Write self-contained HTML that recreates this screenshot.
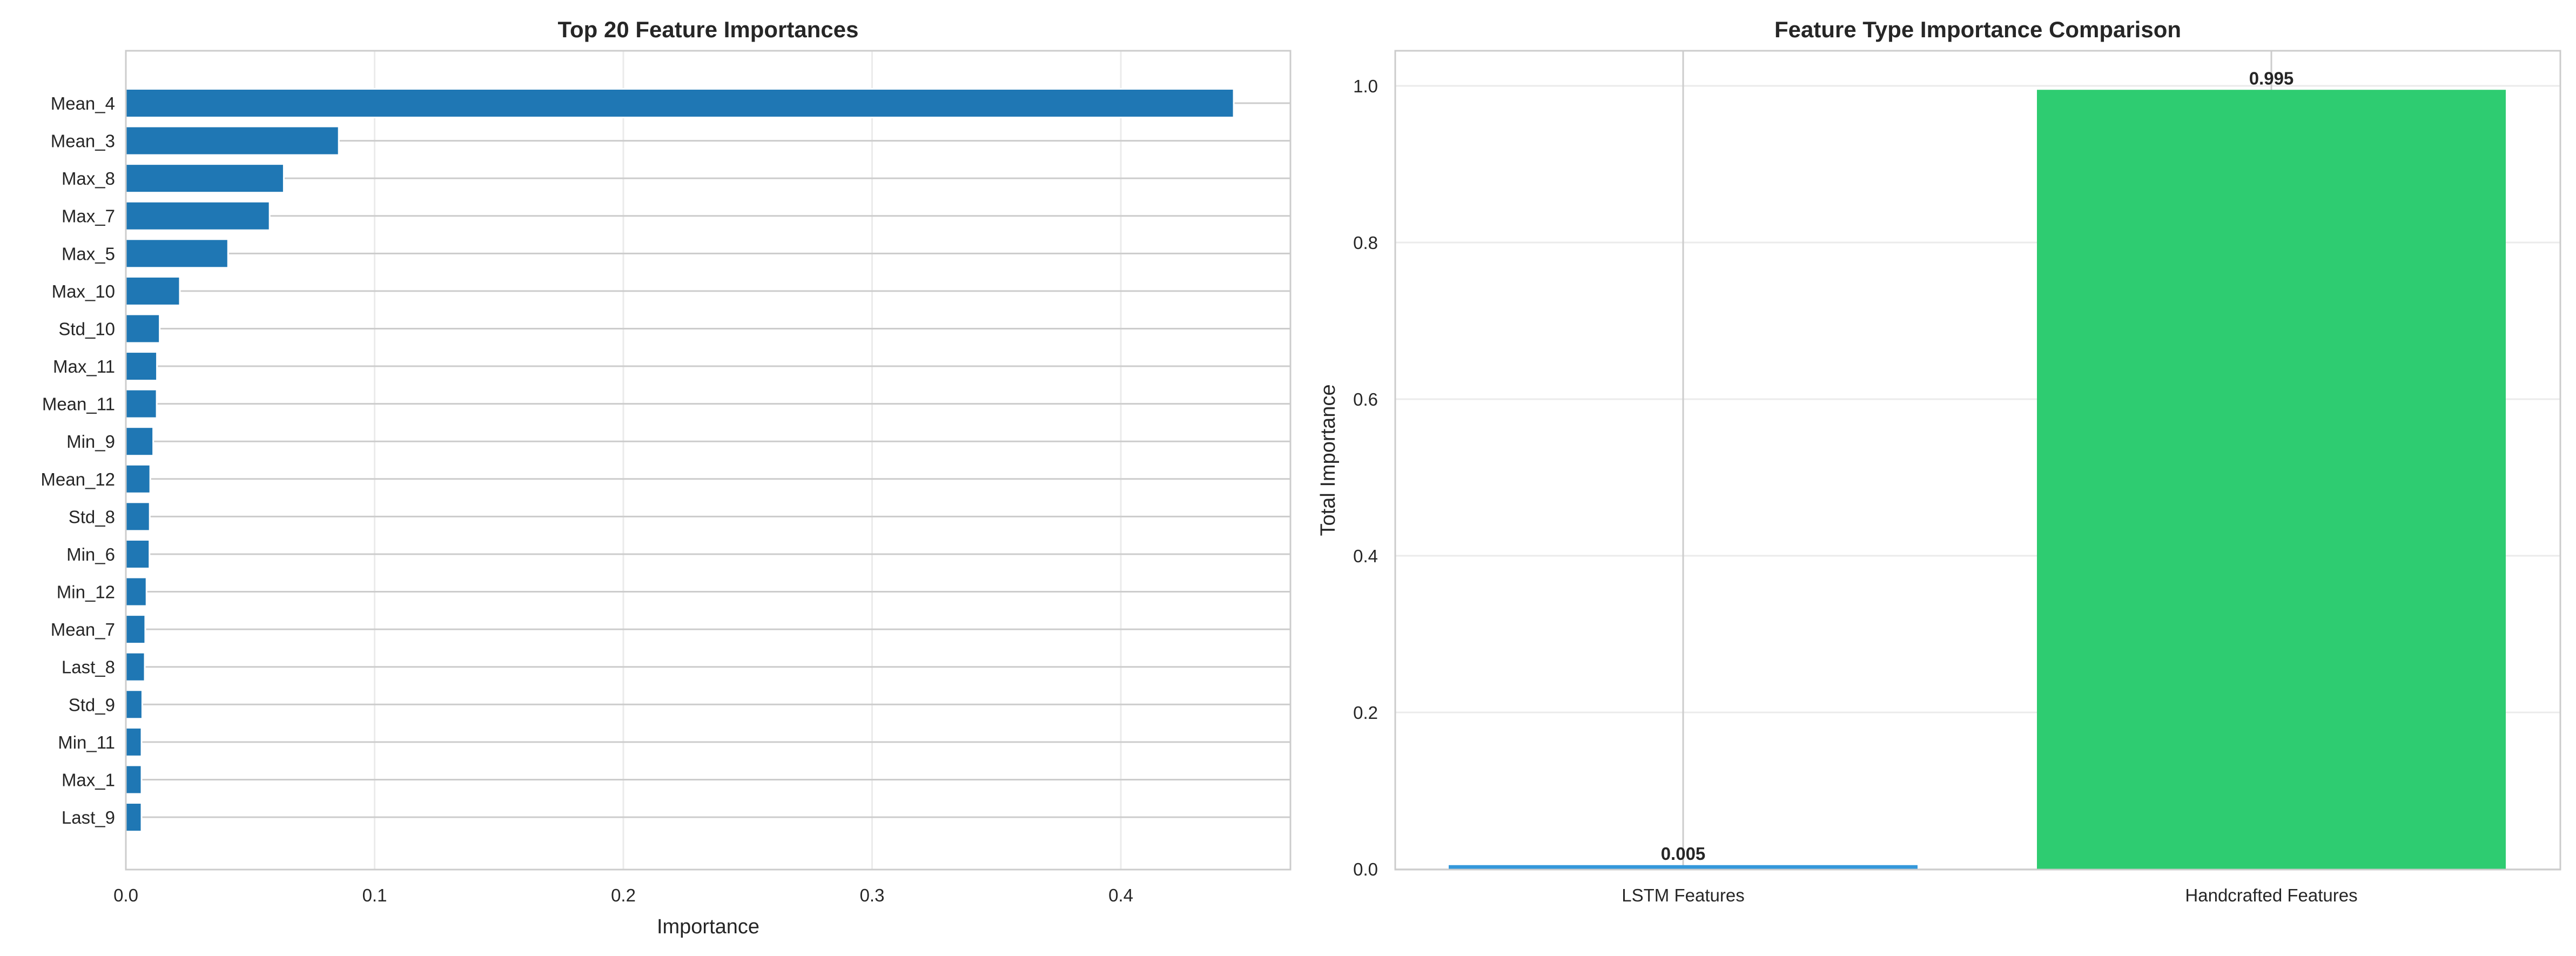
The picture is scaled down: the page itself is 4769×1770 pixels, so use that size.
<!DOCTYPE html>
<html><head><meta charset="utf-8"><style>
html,body{margin:0;padding:0;background:#fff}
svg{display:block;font-family:"Liberation Sans",Arial,sans-serif}
</style></head><body>
<svg id="c" width="4769" height="1770" viewBox="0 0 4769 1770" xmlns="http://www.w3.org/2000/svg">
<rect width="4769" height="1770" fill="#fff"/>
</svg>
<script>
const featureNames=["Mean_4","Mean_3","Max_8","Max_7","Max_5","Max_10","Std_10","Max_11","Mean_11","Min_9","Mean_12","Std_8","Min_6","Min_12","Mean_7","Last_8","Std_9","Min_11","Max_1","Last_9"];
const featureValues=[0.4454,0.0856,0.0635,0.0578,0.0411,0.0217,0.0136,0.0125,0.0124,0.011,0.0098,0.0096,0.0095,0.0083,0.0078,0.0076,0.0066,0.0063,0.0063,0.0063];
const xTicks=[0,0.1,0.2,0.3,0.4];
const typeNames=["LSTM Features","Handcrafted Features"];
const typeValues=[0.005,0.995];
const typeColors=["#3498db","#2ecc71"];
const yTicks=[0,0.2,0.4,0.6,0.8,1.0];

const svg=document.getElementById('c');
const NS="http://www.w3.org/2000/svg";
function el(tag,attrs,parent){const e=document.createElementNS(NS,tag);for(const k in attrs)e.setAttribute(k,attrs[k]);(parent||svg).appendChild(e);return e;}

// Left chart
const L={x0:233,x1:2389,y0:94,y1:1610};
const xL=v=>L.x0+v*4605;
const yL=i=>191+i*69.58;
const g1=el('g',{});


xTicks.forEach(t=>{
  const l=el('line',{x1:xL(t),x2:xL(t),y1:L.y0,y2:L.y1,stroke:'#ebebeb','stroke-width':3},g1);
  
  
  const tx=el('text',{x:xL(t),y:1669,'font-size':33,'text-anchor':'middle',fill:'#262626'},g1);
  tx.textContent=t.toFixed(1);
  
  
});
featureNames.forEach((n,i)=>{
  const l=el('line',{x1:L.x0,x2:L.x1,y1:yL(i),y2:yL(i),stroke:'#cccccc','stroke-width':3},g1);
  
  
});
featureNames.forEach((n,i)=>{
  const r=el('rect',{x:L.x0,y:yL(i)-26.5,width:xL(featureValues[i])-L.x0,height:53,fill:'#1f77b4',stroke:'#fff','stroke-width':3},g1);
  
  
  const tx=el('text',{x:213,y:yL(i)+12,'font-size':33,'text-anchor':'end',fill:'#262626'},g1);
  tx.textContent=n;
  
  
});
const f1=el('rect',{x:L.x0,y:L.y0,width:L.x1-L.x0,height:L.y1-L.y0,fill:'none',stroke:'#cccccc','stroke-width':3},g1);


const t1=el('text',{x:(L.x0+L.x1)/2,y:69,'font-size':42,'font-weight':'bold','text-anchor':'middle',fill:'#262626'},g1);
t1.textContent='Top 20 Feature Importances';


const xl=el('text',{x:(L.x0+L.x1)/2,y:1728,'font-size':38,'text-anchor':'middle',fill:'#262626'},g1);
xl.textContent='Importance';



// Right chart
const R={x0:2583,x1:4740,y0:94,y1:1610};
const xR=i=>3116+i*1089;
const yR=v=>1609-v*1450;
const g2=el('g',{});


yTicks.forEach(t=>{
  const l=el('line',{x1:R.x0,x2:R.x1,y1:yR(t),y2:yR(t),stroke:'#ebebeb','stroke-width':3},g2);
  
  
  const tx=el('text',{x:2551,y:yR(t)+12,'font-size':33,'text-anchor':'end',fill:'#262626'},g2);
  tx.textContent=t.toFixed(1);
  
  
});
typeNames.forEach((n,i)=>{
  const l=el('line',{x1:xR(i),x2:xR(i),y1:R.y0,y2:R.y1,stroke:'#cccccc','stroke-width':3},g2);
  
  
});
typeNames.forEach((n,i)=>{
  const r=el('rect',{x:xR(i)-434,y:yR(typeValues[i]),width:868,height:yR(0)-yR(typeValues[i]),fill:typeColors[i]},g2);
  
  
  const v=el('text',{x:xR(i),y:yR(typeValues[i])-10,'font-size':33,'font-weight':'bold','text-anchor':'middle',fill:'#262626'},g2);
  v.textContent=typeValues[i].toFixed(3);
  
  
  const tx=el('text',{x:xR(i),y:1669,'font-size':33,'text-anchor':'middle',fill:'#262626'},g2);
  tx.textContent=n;
  
  
});
const f2=el('rect',{x:R.x0,y:R.y0,width:R.x1-R.x0,height:R.y1-R.y0,fill:'none',stroke:'#cccccc','stroke-width':3},g2);


const t2=el('text',{x:(R.x0+R.x1)/2,y:69,'font-size':42,'font-weight':'bold','text-anchor':'middle',fill:'#262626'},g2);
t2.textContent='Feature Type Importance Comparison';


const yl=el('text',{x:0,y:0,'font-size':38,'text-anchor':'middle',fill:'#262626',transform:'translate(2471,852) rotate(-90)'},g2);
yl.textContent='Total Importance';


</script>
</body></html>
